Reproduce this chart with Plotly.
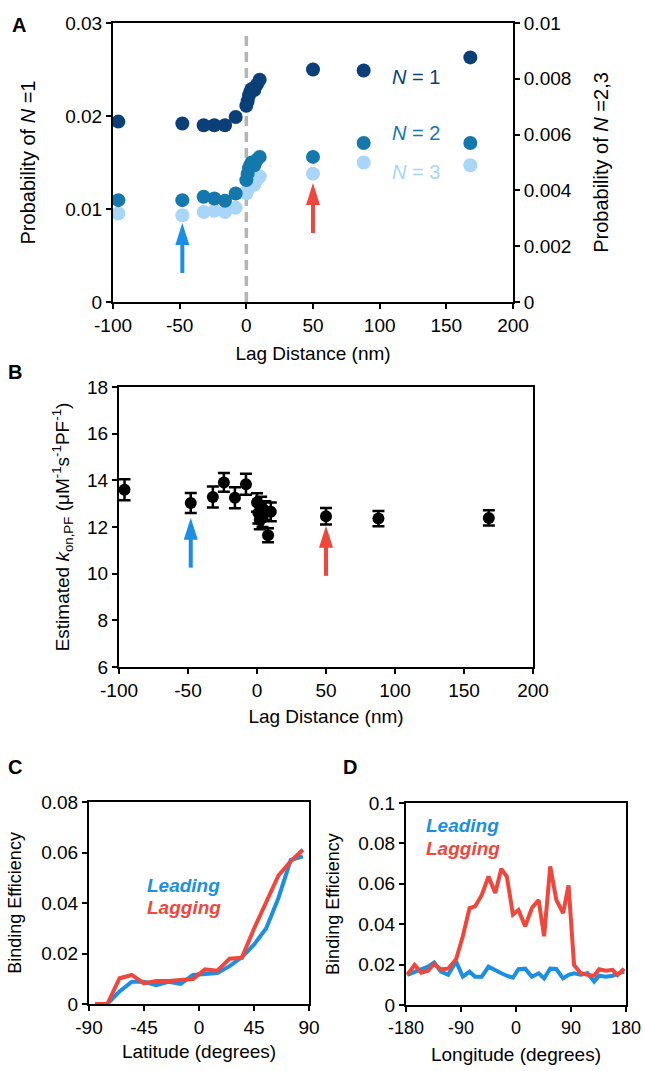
import plotly.graph_objects as go

# ---------------- data ----------------
lag = [-96, -48, -32, -24, -16, -8, 0, 1, 2, 3, 4, 6, 8, 10, 50, 88, 168]
p_n1 = [0.0194, 0.0192, 0.0190, 0.0190, 0.0190, 0.0199, 0.0211, 0.0216, 0.0222, 0.0226,
        0.0229, 0.0228, 0.0234, 0.0239, 0.0250, 0.0249, 0.0263]
p_n2 = [0.00365, 0.00365, 0.00377, 0.00371, 0.00363, 0.00389, 0.00437, 0.0046, 0.0048,
        0.0049, 0.0050, 0.0049, 0.0051, 0.0052, 0.0052, 0.0057, 0.0057]
p_n3 = [0.00317, 0.00311, 0.00323, 0.00327, 0.00322, 0.00338, 0.0039, 0.0040, 0.0041,
        0.0042, 0.0043, 0.0042, 0.0044, 0.0045, 0.0046, 0.0050, 0.0049]
kon = [13.6, 13.03, 13.29, 13.91, 13.25, 13.83, 13.05, 12.6, 12.3, 12.9, 12.4, 12.7,
       11.65, 12.65, 12.46, 12.36, 12.39]
kon_err = [0.45, 0.43, 0.45, 0.4, 0.45, 0.45, 0.4, 0.45, 0.4, 0.4, 0.4, 0.4, 0.3, 0.4,
           0.35, 0.33, 0.33]

lat = [-85, -75, -65, -55, -45, -35, -25, -15, -5, 5, 15, 25, 35, 45, 55, 65, 75, 85]
lat_leading = [0, 0, 0.005, 0.0088, 0.0088, 0.0075, 0.0088, 0.008, 0.0115, 0.012, 0.0123,
               0.015, 0.0185, 0.0235, 0.030, 0.042, 0.057, 0.0585]
lat_lagging = [0, 0, 0.0102, 0.0115, 0.0082, 0.0091, 0.0091, 0.0095, 0.0099, 0.0137, 0.0132,
               0.0179, 0.0183, 0.0298, 0.0408, 0.0509, 0.0565, 0.0611]

lon = [-178, -166, -155, -144, -134, -123, -111, -98, -87, -76, -67, -56, -45, -34, -24,
       -15, -5, 4, 15, 26, 37, 46, 56, 66, 77, 86, 95, 106, 117, 128, 136, 147, 158, 166, 177]
lon_leading = [0.0149, 0.0165, 0.018, 0.019, 0.021, 0.0165, 0.015, 0.0215, 0.014, 0.0165,
               0.014, 0.014, 0.019, 0.017, 0.0157, 0.0145, 0.0135, 0.0177, 0.018, 0.014,
               0.0157, 0.0132, 0.018, 0.0178, 0.0132, 0.0149, 0.0157, 0.015, 0.0157, 0.0116,
               0.0145, 0.014, 0.0145, 0.0154, 0.0165]
lon_lagging = [0.0149, 0.0198, 0.016, 0.017, 0.0203, 0.0177, 0.018, 0.0226, 0.034, 0.048,
               0.0488, 0.0545, 0.0636, 0.0554, 0.0674, 0.0636, 0.0448, 0.047, 0.039, 0.048,
               0.052, 0.034, 0.0686, 0.052, 0.0455, 0.0592, 0.0198, 0.0157, 0.0149, 0.0145,
               0.0177, 0.017, 0.0174, 0.0149, 0.018]

lag_ticks = [-100, -50, 0, 50, 100, 150, 200]
lat_ticks = [-90, -45, 0, 45, 90]
lon_ticks = [-180, -90, 0, 90, 180]

# arrow tips (lag position, value at tip) for panels A and B
arrow_a = [(-48, 0.0085, "blue"), (50, 0.0128, "red")]
arrow_b = [(-48, 12.4, "blue"), (50, 12.05, "red")]

# ---------------- styles ----------------
FONT = "Arial, Liberation Sans, sans-serif"
NAVY = "#0a3f78"
TEAL = "#1478ac"
LIGHT = "#a9d5f8"
BLUE = "#1b8fe3"
RED = "#f0463c"
COLS = {"blue": BLUE, "red": RED}
W, H = 645, 1071


def px_x(a, b):
    return [a / W, b / W]


def px_y(top, bottom):
    return [1 - bottom / H, 1 - top / H]


def labels(vals):
    return [str(v) for v in vals]  # plain hyphen minus like the reference


fig = go.Figure()

# Panel A
fig.add_trace(go.Scatter(x=lag, y=p_n1, mode="markers", xaxis="x", yaxis="y",
                         marker=dict(color=NAVY, size=14), showlegend=False))
fig.add_trace(go.Scatter(x=lag, y=p_n3, mode="markers", xaxis="x", yaxis="y2",
                         marker=dict(color=LIGHT, size=14), showlegend=False))
fig.add_trace(go.Scatter(x=lag, y=p_n2, mode="markers", xaxis="x", yaxis="y2",
                         marker=dict(color=TEAL, size=14), showlegend=False))

# Panel B
fig.add_trace(go.Scatter(x=lag, y=kon, mode="markers", xaxis="x3", yaxis="y3",
                         marker=dict(color="black", size=12),
                         error_y=dict(type="data", array=kon_err, color="black",
                                      thickness=2.5, width=6),
                         showlegend=False))

# Panel C
fig.add_trace(go.Scatter(x=lat, y=lat_leading, mode="lines", xaxis="x4", yaxis="y4",
                         line=dict(color=BLUE, width=4), showlegend=False))
fig.add_trace(go.Scatter(x=lat, y=lat_lagging, mode="lines", xaxis="x4", yaxis="y4",
                         line=dict(color=RED, width=4), showlegend=False))

# Panel D
fig.add_trace(go.Scatter(x=lon, y=lon_leading, mode="lines", xaxis="x5", yaxis="y5",
                         line=dict(color=BLUE, width=4), showlegend=False))
fig.add_trace(go.Scatter(x=lon, y=lon_lagging, mode="lines", xaxis="x5", yaxis="y5",
                         line=dict(color=RED, width=4), showlegend=False))


def axis(size=19, **kw):
    base = dict(showline=True, linecolor="black", linewidth=2, ticks="outside",
                ticklen=5, tickwidth=2, tickcolor="black", showgrid=False,
                zeroline=False, automargin=False,
                tickfont=dict(family=FONT, size=size, color="black"))
    base.update(kw)
    return base


fig.update_layout(
    template="none",
    width=W, height=H, margin=dict(l=0, r=0, t=0, b=0, pad=0),
    paper_bgcolor="white", plot_bgcolor="white",
    font=dict(family=FONT, color="black", size=19),
    xaxis=axis(domain=px_x(113, 513), anchor="y", range=[-100, 200],
               tickvals=lag_ticks, ticktext=labels(lag_ticks), mirror=True,
               title=dict(text="Lag Distance (nm)", font=dict(size=19), standoff=12)),
    yaxis=axis(domain=px_y(23, 302), anchor="x", range=[0, 0.03], dtick=0.01,
               title=dict(text="Probability of <i>N</i> =1", font=dict(size=20), standoff=24)),
    yaxis2=axis(domain=px_y(23, 302), anchor="x", overlaying="y", side="right",
                range=[0, 0.01], dtick=0.002,
                title=dict(text="Probability of <i>N</i> =2,3", font=dict(size=20), standoff=23)),
    xaxis3=axis(domain=px_x(119, 533), anchor="y3", range=[-100, 200],
                tickvals=lag_ticks, ticktext=labels(lag_ticks), mirror=True,
                title=dict(text="Lag Distance (nm)", font=dict(size=19), standoff=10)),
    yaxis3=axis(domain=px_y(387, 667), anchor="x3", range=[6, 18], dtick=2, mirror=True,
                title=dict(text="Estimated <i>k</i><sub>on,PF</sub> (μM<sup>-1</sup>s<sup>-1</sup>PF<sup>-1</sup>)",
                           font=dict(size=19), standoff=12)),
    xaxis4=axis(domain=px_x(89, 309), anchor="y4", range=[-90, 90],
                tickvals=lat_ticks, ticktext=labels(lat_ticks), mirror=True,
                title=dict(text="Latitude (degrees)", font=dict(size=19), standoff=8)),
    yaxis4=axis(domain=px_y(802, 1004), anchor="x4", range=[0, 0.08], dtick=0.02, mirror=True,
                title=dict(text="Binding Efficiency", font=dict(size=18), standoff=15)),
    xaxis5=axis(size=18, domain=px_x(406, 626), anchor="y5", range=[-180, 180],
                tickvals=lon_ticks, ticktext=labels(lon_ticks), mirror=True,
                title=dict(text="Longitude (degrees)", font=dict(size=19), standoff=11)),
    yaxis5=axis(domain=px_y(803, 1005), anchor="x5", range=[0, 0.1], dtick=0.02, mirror=True,
                title=dict(text="Binding Efficiency", font=dict(size=18), standoff=14)),
)

# dashed zero line in A
fig.add_shape(type="line", xref="x", yref="y", x0=0, x1=0, y0=0, y1=0.029,
              line=dict(color="#b5b5b5", width=3.5, dash="10px,6px"), layer="below")

# arrows drawn as shapes (triangle head + shaft), sized in pixels from the tip
for xr, yr, lst in [("x", "y", arrow_a), ("x3", "y3", arrow_b)]:
    for xv, ytip, cname in lst:
        col = COLS[cname]
        fig.add_shape(type="path", xref=xr, yref=yr, xsizemode="pixel", ysizemode="pixel",
                      xanchor=xv, yanchor=ytip, path="M -7,-22 L 7,-22 L 0,0 Z",
                      fillcolor=col, line=dict(width=0))
        fig.add_shape(type="path", xref=xr, yref=yr, xsizemode="pixel", ysizemode="pixel",
                      xanchor=xv, yanchor=ytip, path="M 0,-20 L 0,-50",
                      line=dict(color=col, width=4))

ann = []
# Panel labels
for lbl, xp, yp in [("A", 19, 25), ("B", 15, 372), ("C", 15, 767), ("D", 350, 767)]:
    ann.append(dict(text=f"<b>{lbl}</b>", x=xp / W, y=1 - yp / H, xref="paper", yref="paper",
                    showarrow=False, xanchor="center", yanchor="middle",
                    font=dict(family=FONT, size=20, color="black")))

# N labels in A
for txt, yv, col in [("<i>N</i> = 1", 0.0242, NAVY), ("<i>N</i> = 2", 0.0182, TEAL),
                     ("<i>N</i> = 3", 0.0140, LIGHT)]:
    ann.append(dict(text=txt, x=127, y=yv, xref="x", yref="y", showarrow=False,
                    font=dict(family=FONT, size=20, color=col)))

# Leading / Lagging labels
for xr, yr, xv, y1, y2 in [("x4", "y4", -44, 0.0471, 0.0384), ("x5", "y5", -150, 0.0891, 0.0777)]:
    ann.append(dict(text="<b><i>Leading</i></b>", x=xv, y=y1, xref=xr, yref=yr,
                    showarrow=False, xanchor="left",
                    font=dict(family=FONT, size=19, color=BLUE)))
    ann.append(dict(text="<b><i>Lagging</i></b>", x=xv, y=y2, xref=xr, yref=yr,
                    showarrow=False, xanchor="left",
                    font=dict(family=FONT, size=19, color=RED)))

fig.update_layout(annotations=ann)
# remove the browser's default 8px body margin so the figure fills the window exactly
fig.write_html("out.html", config={"displayModeBar": False},
               post_script="document.body.style.margin='0';document.body.style.overflow='hidden';")
